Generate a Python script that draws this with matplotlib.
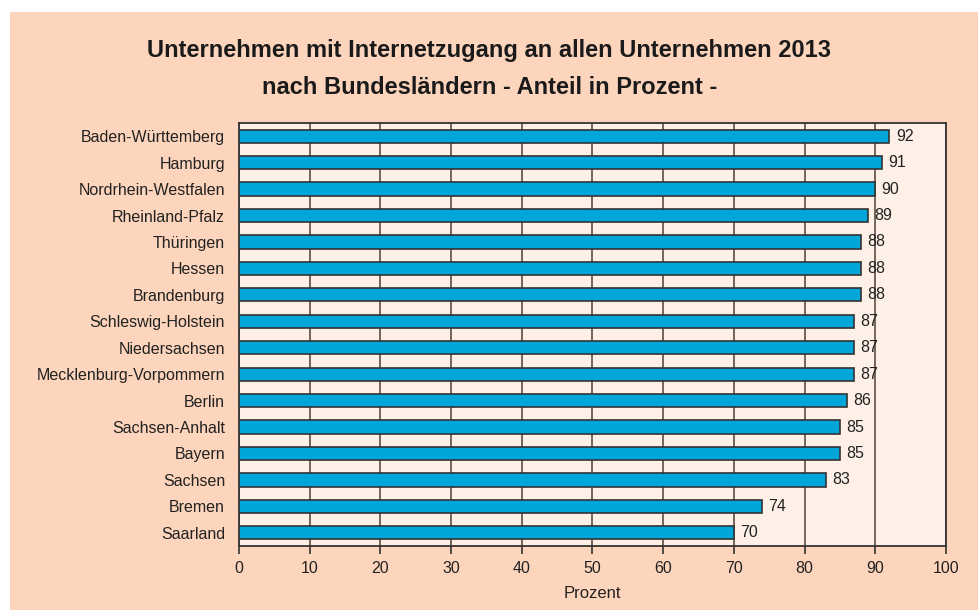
import matplotlib
matplotlib.use("Agg")
import matplotlib.pyplot as plt
from matplotlib.patches import Rectangle

laender = ["Baden-Württemberg", "Hamburg", "Nordrhein-Westfalen", "Rheinland-Pfalz",
           "Thüringen", "Hessen", "Brandenburg", "Schleswig-Holstein", "Niedersachsen",
           "Mecklenburg-Vorpommern", "Berlin", "Sachsen-Anhalt", "Bayern", "Sachsen",
           "Bremen", "Saarland"]
anteil = [92, 91, 90, 89, 88, 88, 88, 87, 87, 87, 86, 85, 85, 83, 74, 70]
xticks = list(range(0, 101, 10))

plt.rcParams['font.family'] = ['Liberation Sans', 'DejaVu Sans']

fig = plt.figure(figsize=(9.79, 6.10), dpi=100)
fig.patch.set_facecolor("white")
fig.patches.append(Rectangle((10/979, 0), 1, 1 - 12/610, transform=fig.transFigure,
                             facecolor="#fdd5bc", edgecolor="none", zorder=-1))

ax = fig.add_axes([239/979, 1 - 546/610, (946 - 239)/979, (546 - 123)/610])
ax.set_facecolor("#fef0e7")

y = list(range(len(laender)))
ax.barh(y, anteil, height=0.5, color="#00a5d9", edgecolor="#333333", linewidth=1.2, zorder=3)
for yi, v in zip(y, anteil):
    ax.text(v + 0.9, yi, str(v), va="center", ha="left", fontsize=11.5, color="#222222", zorder=4)

ax.set_ylim(len(laender) - 0.5, -0.5)
ax.set_xlim(0, 100)
ax.set_xticks(xticks)
ax.set_yticks(y)
ax.set_yticklabels(laender, fontsize=11.5, color="#222222")
ax.tick_params(axis="y", length=0, pad=10)
ax.tick_params(axis="x", length=6, width=1.2, color="#333333", labelsize=11.5, labelcolor="#222222", pad=5)
ax.xaxis.grid(True, color="#6b5a50", linewidth=1.3, zorder=1)
ax.set_axisbelow(True)
for s in ax.spines.values():
    s.set_color("#333333")
    s.set_linewidth(1.3)
ax.set_xlabel("Prozent", fontsize=12, color="#222222", labelpad=7)

fig.text(0.5, 1 - 50/610, "Unternehmen mit Internetzugang an allen Unternehmen 2013",
         ha="center", va="center", fontsize=17, fontweight="bold", color="#1a1a1a")
fig.text(0.5, 1 - 88/610, "nach Bundesländern - Anteil in Prozent -",
         ha="center", va="center", fontsize=17, fontweight="bold", color="#1a1a1a")

fig.savefig("out.png", dpi=100, facecolor=fig.get_facecolor())
